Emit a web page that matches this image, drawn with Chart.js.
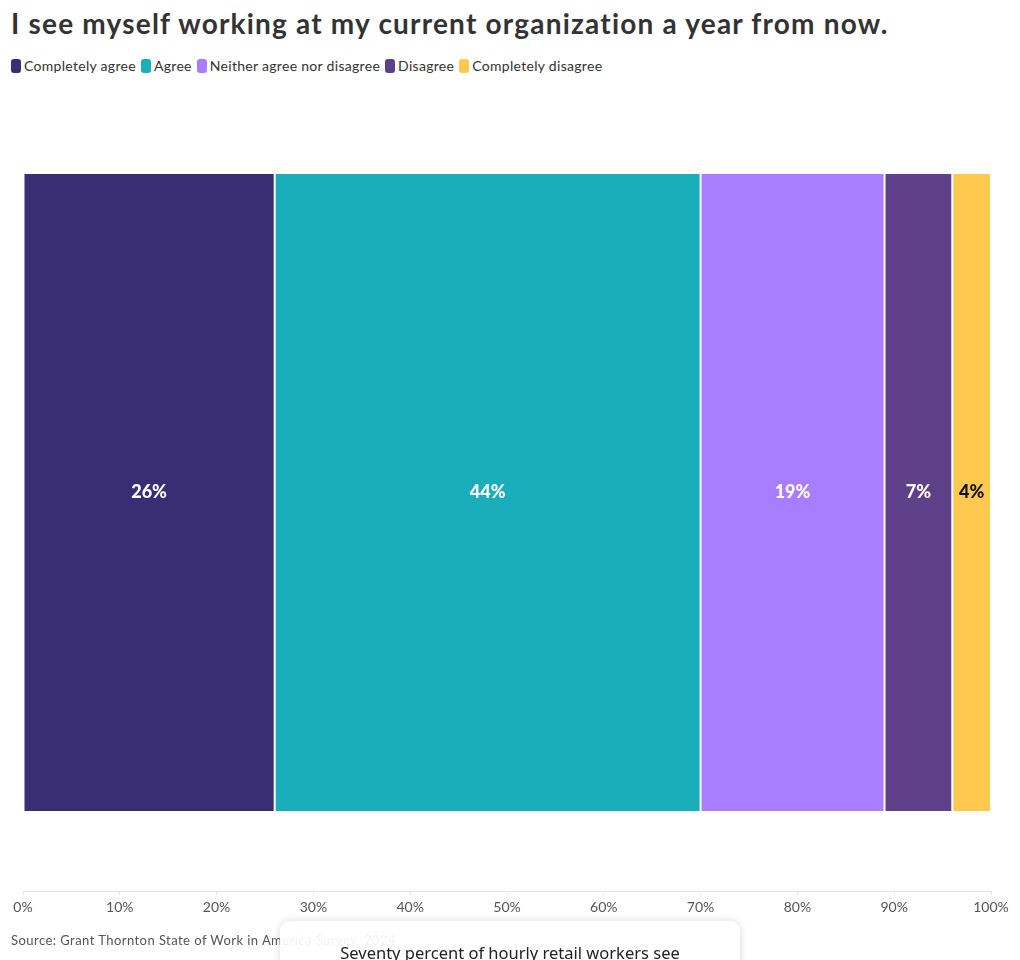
<!DOCTYPE html>
<html>
<head>
<meta charset="utf-8">
<script src="https://cdn.jsdelivr.net/npm/chart.js@4/dist/chart.umd.min.js"></script>
<style>
  body { margin: 0; background: #fff; font-family: Lato, "Noto Sans", sans-serif; }
  #wrap { position: relative; width: 1020px; height: 960px; overflow: hidden; }
  #title { position: absolute; left: 11px; top: 6px; font-size: 28px; font-weight: 700; color: #333; letter-spacing: 1.2px; white-space: nowrap; }
  #legend { position: absolute; left: 11px; top: 57px; font-size: 14px; color: #333; letter-spacing: 0.3px; white-space: nowrap; }
  #legend span.item { display: inline-block; margin-right: 5px; }
  #legend i { display: inline-block; width: 10px; height: 14px; border-radius: 3px; vertical-align: -2px; margin-right: 3px; }
  #chart { position: absolute; left: 0; top: 0; }
  #source { position: absolute; left: 11px; top: 932px; font-size: 13px; color: #555; letter-spacing: 0.45px; white-space: nowrap; }
  #note { position: absolute; left: 280px; top: 921px; width: 460px; height: 80px; background: rgba(255,255,255,0.92);
          border-radius: 10px; box-shadow: 0 0 8px rgba(0,0,0,0.15); text-align: center; font-size: 16.5px; color: #222;
          padding-top: 20px; box-sizing: border-box; font-family: "Noto Sans", sans-serif; }
</style>
</head>
<body>
<div id="wrap">
  <div id="title">I see myself working at my current organization a year from now.</div>
  <div id="legend"></div>
  <canvas id="chart" width="1020" height="960"></canvas>
  <div id="source">Source: Grant Thornton State of Work in America Survey, 2024</div>
  <div id="note">Seventy percent of hourly retail workers see</div>
</div>
<script>
const categories = ['Hourly retail workers'];
const seriesNames = ['Completely agree', 'Agree', 'Neither agree nor disagree', 'Disagree', 'Completely disagree'];
const seriesValues = [26, 44, 19, 7, 4];
const seriesColors = ['#392e74', '#1aaebb', '#a97dff', '#5e4189', '#ffc84f'];
const labelColors = ['#fff', '#fff', '#fff', '#fff', '#111'];
const xTicks = [0, 10, 20, 30, 40, 50, 60, 70, 80, 90, 100];

const legendEl = document.getElementById('legend');
seriesNames.forEach((name, i) => {
  const s = document.createElement('span');
  s.className = 'item';
  s.innerHTML = '<i style="background:' + seriesColors[i] + '"></i>' + name;
  legendEl.appendChild(s);
});

const segmentLabels = {
  id: 'segmentLabels',
  afterDatasetsDraw(chart) {
    const ctx = chart.ctx;
    ctx.save();
    ctx.font = '900 18px Lato, "Noto Sans", sans-serif';
    ctx.textAlign = 'center';
    ctx.textBaseline = 'middle';
    chart.data.datasets.forEach((ds, i) => {
      const meta = chart.getDatasetMeta(i);
      meta.data.forEach((bar, j) => {
        const cx = (bar.x + bar.base) / 2;
        ctx.fillStyle = labelColors[i];
        ctx.fillText(ds.data[j] + '%', cx, bar.y);
      });
    });
    ctx.restore();
  }
};

new Chart(document.getElementById('chart'), {
  type: 'bar',
  data: {
    labels: categories,
    datasets: seriesNames.map((name, i) => ({
      label: name,
      data: [seriesValues[i]],
      backgroundColor: seriesColors[i],
      borderColor: '#ffffff',
      borderWidth: 1,
      borderSkipped: false,
      barPercentage: 0.802,
      categoryPercentage: 1
    }))
  },
  options: {
    indexAxis: 'y',
    responsive: false,
    animation: false,
    layout: { padding: { top: 94, left: 23, right: 29, bottom: 39 } },
    plugins: { legend: { display: false }, tooltip: { enabled: false } },
    scales: {
      y: { stacked: true, display: false },
      x: {
        stacked: true,
        min: 0,
        max: 100,
        afterBuildTicks(scale) { scale.ticks = xTicks.map(v => ({ value: v })); },
        afterFit(scale) { scale.height = 30; },
        grid: { drawOnChartArea: false, color: '#e6e6e6', tickLength: 4 },
        border: { color: '#e6e6e6' },
        ticks: {
          color: '#555',
          font: { size: 14, family: 'Lato, "Noto Sans", sans-serif' },
          padding: 4,
          maxRotation: 0,
          callback: v => v + '%'
        }
      }
    }
  },
  plugins: [segmentLabels]
});
</script>
</body>
</html>
